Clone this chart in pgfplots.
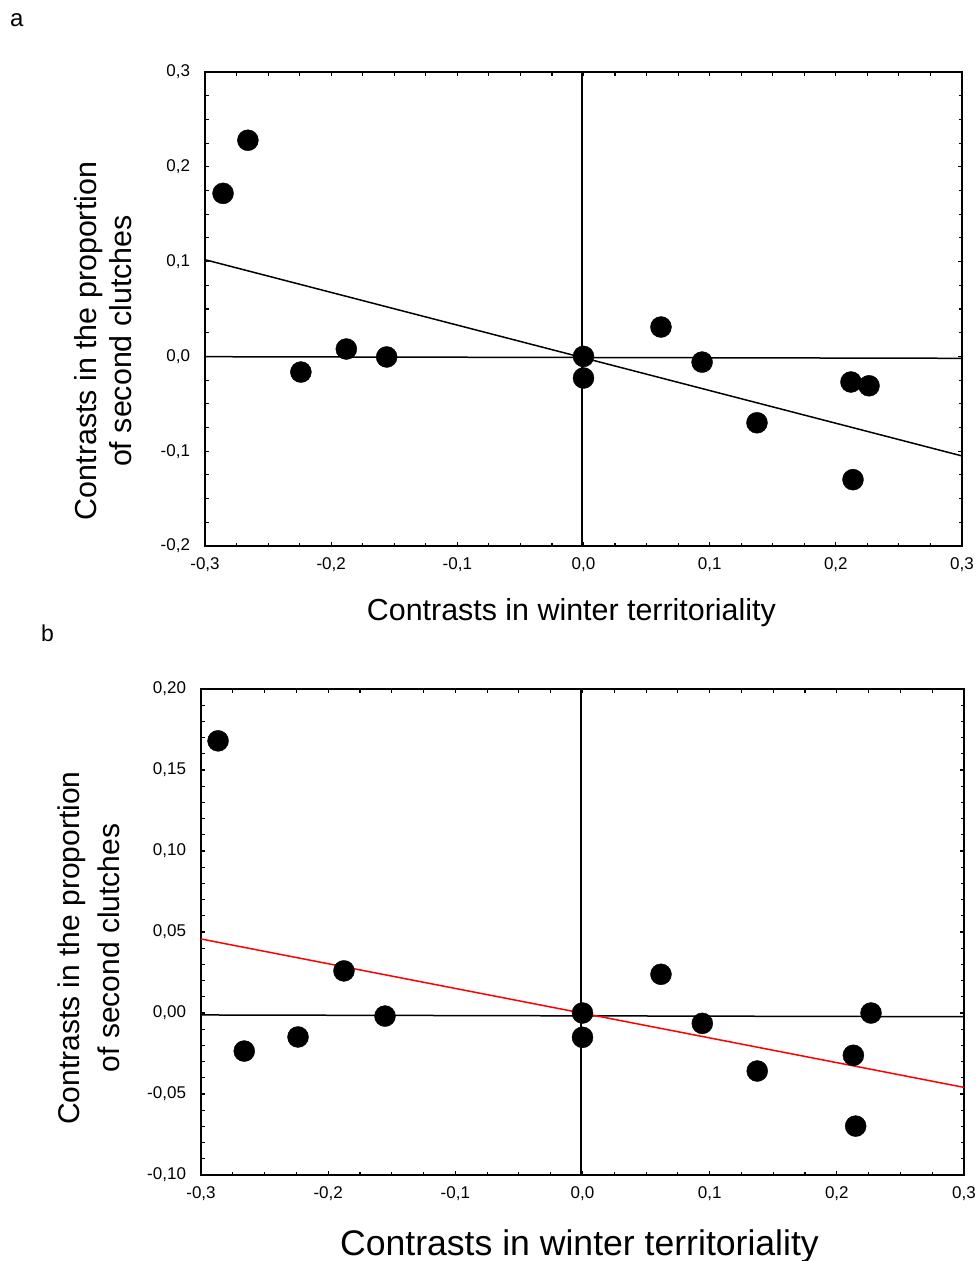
\documentclass[border=0pt]{standalone}
\usepackage{fontspec}
\setmainfont{Liberation Sans}
\usepackage{pgfplots}
\pgfplotsset{compat=1.18}
\begin{document}
\begin{tikzpicture}
\useasboundingbox (0,0) rectangle (977pt,-1261pt);
\pgfplotsset{
 common/.style={
  scale only axis, anchor=north west,
  xmin=-0.3, xmax=0.3,
  xtick={-0.3,-0.2,-0.1,0,0.1,0.2,0.3},
  minor x tick num=3,
  scaled ticks=false,
  tick align=inside,
  major tick length=4pt, minor tick length=3.5pt,
  axis line style={line width=1.5pt},
  every tick/.style={black, line width=1.1pt},
  tick label style={font=\fontsize{17}{20}\selectfont},
  /pgf/number format/assume math mode=true,
  xticklabel style={/pgf/number format/use comma, /pgf/number format/fixed, /pgf/number format/fixed zerofill, /pgf/number format/precision=1, yshift=-8.5pt},
  ylabel style={align=center, anchor=center},
  xlabel style={anchor=base},
 }}
% ---------------- panel a ----------------
\begin{axis}[common,
  at={(205pt,-72pt)}, width=757pt, height=474pt,
  ymin=-0.2, ymax=0.3,
  ytick={-0.2,-0.1,0,0.1,0.2,0.3},
  minor y tick num=3,
  yticklabel style={/pgf/number format/use comma, /pgf/number format/fixed, /pgf/number format/fixed zerofill, /pgf/number format/precision=1, xshift=-11.5pt},
  xlabel={Contrasts in winter territoriality},
  xlabel style={font=\fontsize{30.4}{35}\selectfont, at={(axis description cs:0.484,-0.1582)}},
  ylabel={Contrasts in the proportion\\of second clutches},
  ylabel style={font=\fontsize{30.4}{35}\selectfont, at={(axis description cs:-0.1348,0.4325)}},
]
\addplot[black, line width=1.5pt, no marks] coordinates {(-0.3,-0.0003) (0.3,-0.002)};
\addplot[black, line width=1.5pt, no marks] coordinates {(-0.001,-0.2) (-0.001,0.3)};
\addplot[black, line width=1.5pt, no marks] coordinates {(-0.3,0.102) (0.3,-0.105)};
\addplot[only marks, mark=*, mark size=10.5pt, black] coordinates {
 (-0.2857,0.172) (-0.266,0.228) (-0.224,-0.0165) (-0.188,0.0078) (-0.156,-0.0006)
 (0.0,0.0) (0.0,-0.0228) (0.0614,0.031) (0.094,-0.006) (0.1375,-0.070)
 (0.212,-0.027) (0.2263,-0.031) (0.2136,-0.130)};
\end{axis}
% ---------------- panel b ----------------
\begin{axis}[common,
  at={(201pt,-689pt)}, width=763pt, height=486pt,
  ymin=-0.1, ymax=0.2,
  ytick={-0.1,-0.05,0,0.05,0.1,0.15,0.2},
  minor y tick num=4,
  yticklabel style={/pgf/number format/use comma, /pgf/number format/fixed, /pgf/number format/fixed zerofill, /pgf/number format/precision=2, xshift=-11.5pt},
  xlabel={Contrasts in winter territoriality},
  xlabel style={font=\fontsize{35.6}{40}\selectfont, at={(axis description cs:0.496,-0.1646)}},
  ylabel={Contrasts in the proportion\\of second clutches},
  ylabel style={font=\fontsize{30}{40}\selectfont, at={(axis description cs:-0.1468,0.467)}},
]
\addplot[black, line width=1.5pt, no marks] coordinates {(-0.3,-0.0012) (0.3,-0.0023)};
\addplot[black, line width=1.5pt, no marks] coordinates {(-0.0012,-0.1) (-0.0012,0.2)};
\addplot[red, line width=1.5pt, no marks] coordinates {(-0.3,0.0457) (0.3,-0.0459)};
\addplot[only marks, mark=*, mark size=10.5pt, black] coordinates {
 (-0.2866,0.168) (-0.266,-0.0235) (-0.2237,-0.0148) (-0.1876,0.026) (-0.1553,-0.0019)
 (0.0,0.0) (0.0,-0.015) (0.0617,0.0239) (0.0942,-0.0064) (0.1374,-0.0358)
 (0.213,-0.0261) (0.2269,0.0) (0.2148,-0.0698)};
\end{axis}
\node[anchor=base west, inner sep=0pt, font=\fontsize{24}{28}\selectfont] at (10pt,-26pt) {a};
\node[anchor=base west, inner sep=0pt, font=\fontsize{23}{28}\selectfont] at (41pt,-641.7pt) {b};
\end{tikzpicture}
\end{document}
